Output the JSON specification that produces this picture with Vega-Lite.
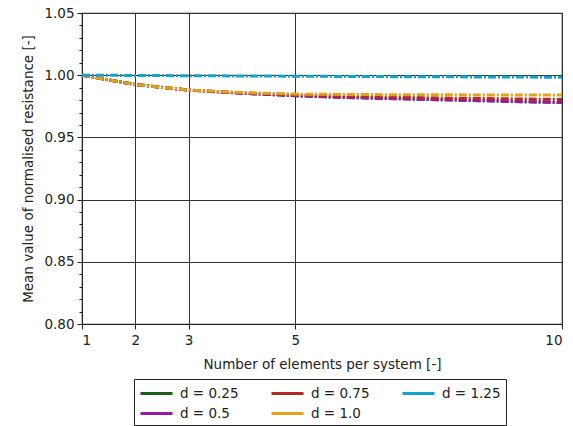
{
  "$schema": "https://vega.github.io/schema/vega-lite/v6.json",
  "width": 480,
  "height": 311,
  "autosize": "none",
  "padding": {"left": 82, "top": 13, "right": 11, "bottom": 102},
  "background": "white",
  "config": {
    "font": "DejaVu Sans",
    "view": {"stroke": "#222222", "strokeWidth": 1.2},
    "axis": {
      "labelFont": "DejaVu Sans",
      "titleFont": "DejaVu Sans",
      "labelFontSize": 13.5,
      "titleFontSize": 13.5,
      "labelColor": "#222222",
      "titleColor": "#222222",
      "titleFontWeight": "normal",
      "domainColor": "#222222",
      "tickColor": "#222222",
      "gridColor": "#333333",
      "gridOpacity": 1,
      "gridWidth": 1
    }
  },
  "data": {
    "values": [
      {"n": 1, "d": "d = 0.25", "v": 1.0},
      {"n": 2, "d": "d = 0.25", "v": 0.9925},
      {"n": 3, "d": "d = 0.25", "v": 0.988},
      {"n": 4, "d": "d = 0.25", "v": 0.9855},
      {"n": 5, "d": "d = 0.25", "v": 0.9835},
      {"n": 6, "d": "d = 0.25", "v": 0.982},
      {"n": 7, "d": "d = 0.25", "v": 0.981},
      {"n": 8, "d": "d = 0.25", "v": 0.98},
      {"n": 9, "d": "d = 0.25", "v": 0.979},
      {"n": 10, "d": "d = 0.25", "v": 0.978},
      {"n": 1, "d": "d = 0.5", "v": 1.0},
      {"n": 2, "d": "d = 0.5", "v": 0.9925},
      {"n": 3, "d": "d = 0.5", "v": 0.988},
      {"n": 4, "d": "d = 0.5", "v": 0.9855},
      {"n": 5, "d": "d = 0.5", "v": 0.9835},
      {"n": 6, "d": "d = 0.5", "v": 0.982},
      {"n": 7, "d": "d = 0.5", "v": 0.981},
      {"n": 8, "d": "d = 0.5", "v": 0.98},
      {"n": 9, "d": "d = 0.5", "v": 0.979},
      {"n": 10, "d": "d = 0.5", "v": 0.978},
      {"n": 1, "d": "d = 0.75", "v": 1.0},
      {"n": 2, "d": "d = 0.75", "v": 0.9925},
      {"n": 3, "d": "d = 0.75", "v": 0.988},
      {"n": 4, "d": "d = 0.75", "v": 0.9858},
      {"n": 5, "d": "d = 0.75", "v": 0.984},
      {"n": 6, "d": "d = 0.75", "v": 0.983},
      {"n": 7, "d": "d = 0.75", "v": 0.9822},
      {"n": 8, "d": "d = 0.75", "v": 0.9815},
      {"n": 9, "d": "d = 0.75", "v": 0.981},
      {"n": 10, "d": "d = 0.75", "v": 0.9805},
      {"n": 1, "d": "d = 1.0", "v": 1.0},
      {"n": 2, "d": "d = 1.0", "v": 0.9925},
      {"n": 3, "d": "d = 1.0", "v": 0.988},
      {"n": 4, "d": "d = 1.0", "v": 0.986},
      {"n": 5, "d": "d = 1.0", "v": 0.9848},
      {"n": 6, "d": "d = 1.0", "v": 0.9845},
      {"n": 7, "d": "d = 1.0", "v": 0.9843},
      {"n": 8, "d": "d = 1.0", "v": 0.9842},
      {"n": 9, "d": "d = 1.0", "v": 0.9841},
      {"n": 10, "d": "d = 1.0", "v": 0.984},
      {"n": 1, "d": "d = 1.25", "v": 1.0},
      {"n": 2, "d": "d = 1.25", "v": 0.9998},
      {"n": 3, "d": "d = 1.25", "v": 0.9996},
      {"n": 4, "d": "d = 1.25", "v": 0.9994},
      {"n": 5, "d": "d = 1.25", "v": 0.9992},
      {"n": 6, "d": "d = 1.25", "v": 0.999},
      {"n": 7, "d": "d = 1.25", "v": 0.9988},
      {"n": 8, "d": "d = 1.25", "v": 0.9987},
      {"n": 9, "d": "d = 1.25", "v": 0.9985},
      {"n": 10, "d": "d = 1.25", "v": 0.9984}
    ]
  },
  "layer": [
    {
      "mark": {"type": "line", "strokeWidth": 3, "strokeDash": [8, 2, 2, 2], "clip": true},
      "encoding": {
        "x": {
          "field": "n",
          "type": "quantitative",
          "scale": {"domain": [1, 10], "zero": false, "nice": false},
          "axis": {
            "title": "Number of elements per system [-]",
            "values": [1, 2, 3, 5, 10],
            "format": "d",
            "grid": true,
            "tickSize": 5,
            "labelPadding": 4,
            "titlePadding": 11
          }
        },
        "y": {
          "field": "v",
          "type": "quantitative",
          "scale": {"domain": [0.8, 1.05], "zero": false, "nice": false},
          "axis": {
            "title": "Mean value of normalised resistance [-]",
            "values": [0.8, 0.85, 0.9, 0.95, 1.0, 1.05],
            "format": ".2f",
            "grid": true,
            "tickSize": 5,
            "labelPadding": 3,
            "titlePadding": 8
          }
        },
        "color": {
          "field": "d",
          "type": "nominal",
          "scale": {
            "domain": ["d = 0.25", "d = 0.75", "d = 1.25", "d = 0.5", "d = 1.0"],
            "range": ["#1b5e1b", "#b22a2a", "#12a4cc", "#9a16a6", "#e3a019"]
          },
          "legend": {
            "title": null,
            "orient": "none",
            "legendX": 52,
            "legendY": 366,
            "direction": "horizontal",
            "columns": 3,
            "symbolType": "M-1,0L3,0",
            "symbolStrokeWidth": 3,
            "symbolSize": 256,
            "symbolDash": [1, 0],
            "labelOffset": 22,
            "labelFontSize": 13.5,
            "labelFont": "DejaVu Sans",
            "labelColor": "#222222",
            "labelLimit": 200,
            "columnPadding": 26,
            "rowPadding": 4,
            "strokeColor": "#222222",
            "padding": 5,
            "fillColor": "white",
            "cornerRadius": 0
          }
        }
      }
    },
    {
      "data": {"values": [{"t": 0.8}, {"t": 1.05}]},
      "mark": {"type": "tick", "opacity": 0},
      "encoding": {
        "y": {
          "field": "t",
          "type": "quantitative",
          "axis": {
            "orient": "left",
            "values": [0.81, 0.82, 0.83, 0.84, 0.86, 0.87, 0.88, 0.89, 0.91, 0.92, 0.93, 0.94, 0.96, 0.97, 0.98, 0.99, 1.01, 1.02, 1.03, 1.04],
            "labels": false,
            "domain": false,
            "grid": false,
            "tickSize": 3,
            "title": null
          }
        }
      }
    }
  ],
  "resolve": {"axis": {"y": "independent"}}
}
